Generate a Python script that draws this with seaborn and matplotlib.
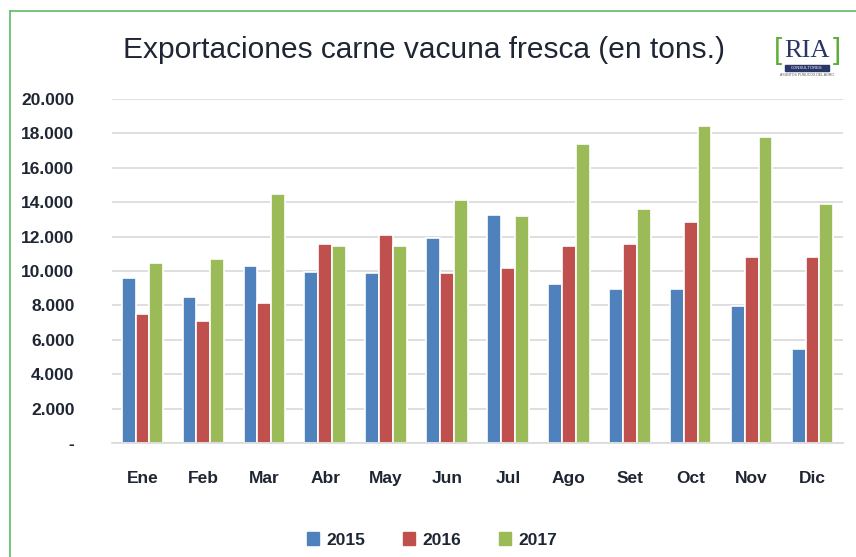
import matplotlib
matplotlib.use('Agg')
import matplotlib.pyplot as plt
from matplotlib.lines import Line2D
from matplotlib.patches import Rectangle
from matplotlib.ticker import FuncFormatter
import pandas as pd
import seaborn as sns

# ── data (toneladas) ──
months = ['Ene', 'Feb', 'Mar', 'Abr', 'May', 'Jun',
          'Jul', 'Ago', 'Set', 'Oct', 'Nov', 'Dic']
years = ['2015', '2016', '2017']
exp_2015 = [9620, 8460, 10280, 9970, 9860, 11890, 13280, 9220, 8980, 8980, 7940, 5460]
exp_2016 = [7490, 7090, 8130, 11580, 12100, 9860, 10170, 11460, 11580, 12860, 10820, 10820]
exp_2017 = [10490, 10710, 14460, 11460, 11460, 14130, 13170, 17370, 13590, 18430, 17770, 13920]
colors = ['#4F81BD', '#C0504D', '#9BBB59']

df = pd.DataFrame({
    'mes': months * 3,
    'anio': [y for y in years for _ in months],
    'tons': exp_2015 + exp_2016 + exp_2017,
})

sns.set_style('white')
plt.rcParams['font.family'] = ['Liberation Sans', 'DejaVu Sans']
txt_color = '#1F2633'

fig = plt.figure(figsize=(8.56, 5.57), dpi=100)
ax = fig.add_axes([112 / 856, 1 - 443 / 557, 731 / 856, 344 / 557])

sns.barplot(data=df, x='mes', y='tons', hue='anio', order=months, hue_order=years,
            palette=colors, width=0.68, edgecolor='white', linewidth=1.2,
            saturation=1, legend=False, ax=ax)

ax.set_ylim(0, 20000)
ax.set_xlim(-0.5, 11.5)
ax.set_yticks(range(0, 20001, 2000))
ax.yaxis.set_major_formatter(FuncFormatter(
    lambda v, p: '-' if v == 0 else f'{v:,.0f}'.replace(',', '.')))
ax.grid(axis='y', color='#D9D9D9', linewidth=1.2)
ax.set_axisbelow(True)
for side in ['top', 'right', 'left']:
    ax.spines[side].set_visible(False)
ax.spines['bottom'].set_color('#D9D9D9')
ax.spines['bottom'].set_linewidth(1.2)
ax.tick_params(axis='y', length=0, pad=27, labelsize=12.5, labelcolor=txt_color)
ax.tick_params(axis='x', length=0, pad=20, labelsize=12.5, labelcolor=txt_color)
for lbl in ax.get_xticklabels() + ax.get_yticklabels():
    lbl.set_fontweight('bold')
ax.set_xlabel('')
ax.set_ylabel('')

# title
fig.text(424 / 856, 1 - 50 / 557, 'Exportaciones carne vacuna fresca (en tons.)',
         ha='center', va='center', fontsize=21.5, color=txt_color)

# legend
handles = [Rectangle((0, 0), 1, 1, color=c) for c in colors]
leg = fig.legend(handles, years, loc='center', ncol=3, frameon=False,
                 bbox_to_anchor=(432 / 856, 1 - 540 / 557),
                 handlelength=0.7, handleheight=0.7, handletextpad=0.4,
                 columnspacing=2.2, prop={'size': 12.5, 'weight': 'bold'})
for t in leg.get_texts():
    t.set_color(txt_color)

# logo RIA
fig.text(807 / 856, 1 - 51 / 557, 'RIA', ha='center', va='center', fontsize=19,
         family=['Liberation Serif', 'DejaVu Serif'], color='#2B3566')
fig.text(778 / 856, 1 - 51 / 557, '[', ha='center', va='center', fontsize=21,
         color='#5BAE3A')
fig.text(837 / 856, 1 - 51 / 557, ']', ha='center', va='center', fontsize=21,
         color='#5BAE3A')
fig.add_artist(Rectangle((785 / 856, 1 - 71 / 557), 44 / 856, 6 / 557,
                         transform=fig.transFigure, color='#2B3566'))
fig.text(807 / 856, 1 - 68 / 557, 'CONSULTORES', ha='center', va='center',
         fontsize=3, color='white')
fig.text(807 / 856, 1 - 75 / 557, 'ASUNTOS PÚBLICOS DEL AGRO', ha='center',
         va='center', fontsize=2.5, color='#555555')

# green frame (left and top)
fig.add_artist(Line2D([9.5 / 856, 9.5 / 856], [0, 1 - 11 / 557],
                      transform=fig.transFigure, color='#5DBB63', linewidth=1.2))
fig.add_artist(Line2D([9.5 / 856, 1], [1 - 11 / 557, 1 - 11 / 557],
                      transform=fig.transFigure, color='#5DBB63', linewidth=1.2))

fig.savefig('out.png', dpi=100)
